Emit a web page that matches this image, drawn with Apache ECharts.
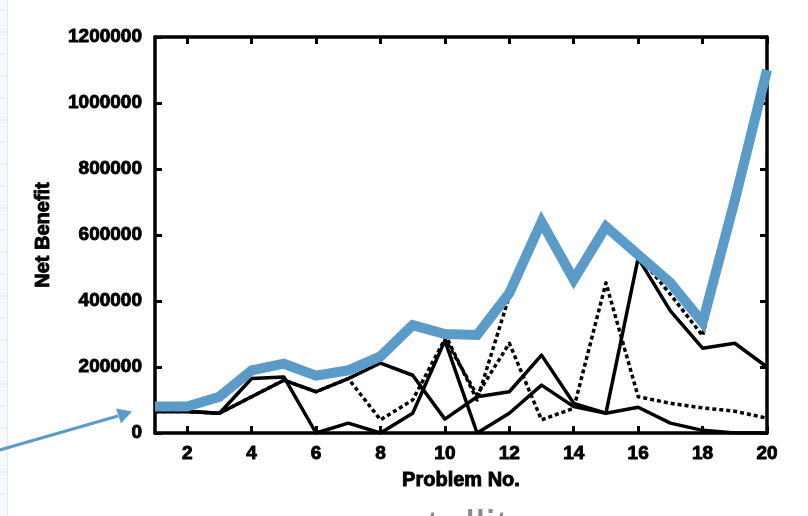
<!DOCTYPE html>
<html>
<head>
<meta charset="utf-8">
<script src="https://cdn.jsdelivr.net/npm/echarts@6/dist/echarts.min.js"></script>
<style>
  html, body { margin: 0; padding: 0; background: #ffffff; }
  #chart { width: 808px; height: 516px; }
</style>
</head>
<body>
<div id="chart"></div>
<script>
// Problem numbers along the x axis
const problems = ['1','2','3','4','5','6','7','8','9','10','11','12','13','14','15','16','17','18','19','20'];

// Net benefit per problem for each method
const methodA = [65000, 65000, 60000, 165000, 170000, 0, 30000, 0, 60000, 280000, 0, 60000, 145000, 80000, 60000, 78000, 30000, 8000, 0, 0];
const methodB = [65000, 65000, 60000, 110000, 160000, 125000, 165000, 212000, 175000, 42000, 110000, 125000, 236000, 90000, 60000, 530000, 370000, 257000, 272000, 200000];
const methodC = [65000, 65000, 60000, 110000, 160000, 125000, 165000, 40000, 100000, 285000, 115000, 272000, 40000, 75000, 455000, 110000, 90000, 76000, 66000, 45000];
const methodD = [75000, 75000, 105000, 190000, 210000, 172000, 190000, 232000, 327000, 300000, 100000, 415000, 640000, 460000, 620000, 540000, 420000, 295000, 700000, 1090000];
// Best net benefit reached on each problem
const best = [80000, 80000, 110000, 190000, 210000, 174000, 190000, 232000, 327000, 300000, 297000, 424000, 640000, 465000, 625000, 540000, 455000, 335000, 705000, 1100000];

// Value axis ticks
const yTicks = [0, 200000, 400000, 600000, 800000, 1000000, 1200000];

const chart = echarts.init(document.getElementById('chart'), null, { renderer: 'canvas' });

const FONT = "'Liberation Sans', Arial, Helvetica, sans-serif";
const BLUE = '#5b9bc8';
const evenOnly = (i) => i % 2 === 1;

const heavyText = { color: '#000', fontFamily: FONT, fontWeight: 'bold', textBorderColor: '#000', textBorderWidth: 0.9 };
const axisLine = { show: true, onZero: false, lineStyle: { color: '#000', width: 3.5 } };
const tick = { show: true, inside: true, length: 7, lineStyle: { color: '#000', width: 3 } };

function blackLine(name, data, dashed) {
  return {
    name, type: 'line', data,
    symbol: 'none', z: 2,
    lineStyle: {
      color: '#000', width: 3.5,
      type: dashed ? [4, 3] : 'solid',
      join: 'round'
    }
  };
}

// Faint slide background strip on the left edge
const stripLines = [];
for (let y = 10; y < 516; y += 22) {
  stripLines.push({ type: 'line', shape: { x1: 0, y1: y, x2: 7, y2: y }, style: { stroke: '#e4eaef', lineWidth: 1 }, silent: true });
}

chart.setOption({
  animation: false,
  backgroundColor: '#ffffff',
  grid: { left: 155, right: 41, top: 37, bottom: 83, containLabel: false },
  xAxis: [
    {
      type: 'category', data: problems, boundaryGap: false, position: 'bottom',
      axisLine, axisTick: Object.assign({ interval: evenOnly }, tick),
      axisLabel: Object.assign({ interval: evenOnly, fontSize: 19, margin: 11 }, heavyText),
      splitLine: { show: false },
      name: 'Problem No.', nameLocation: 'middle', nameGap: 37,
      nameTextStyle: Object.assign({ fontSize: 20 }, heavyText)
    },
    {
      type: 'category', data: problems, boundaryGap: false, position: 'top',
      axisLine, axisTick: Object.assign({ interval: evenOnly }, tick),
      axisLabel: { show: false }, splitLine: { show: false }
    }
  ],
  yAxis: [
    {
      type: 'value', min: yTicks[0], max: yTicks[yTicks.length - 1], interval: yTicks[1] - yTicks[0],
      position: 'left', axisLine, axisTick: tick,
      axisLabel: Object.assign({ fontSize: 19, margin: 13, formatter: (v) => String(v) }, heavyText),
      splitLine: { show: false },
      name: 'Net Benefit', nameLocation: 'middle', nameGap: 102,
      nameTextStyle: Object.assign({ fontSize: 20 }, heavyText)
    },
    {
      type: 'value', min: yTicks[0], max: yTicks[yTicks.length - 1], interval: yTicks[1] - yTicks[0],
      position: 'right', axisLine, axisTick: tick,
      axisLabel: { show: false }, splitLine: { show: false }
    }
  ],
  series: [
    blackLine('A', methodA, false),
    blackLine('B', methodB, false),
    blackLine('C', methodC, true),
    blackLine('D', methodD, true),
    {
      name: 'Best', type: 'line', data: best, symbol: 'none', z: 5,
      lineStyle: { color: BLUE, width: 10, join: 'miter', cap: 'butt' }
    }
  ],
  graphic: [
    { type: 'rect', shape: { x: 0, y: 0, width: 7, height: 516 }, style: { fill: '#f6f8fa' }, silent: true },
    { type: 'line', shape: { x1: 7.5, y1: 0, x2: 7.5, y2: 516 }, style: { stroke: '#e2e7eb', lineWidth: 1 }, silent: true },
    ...stripLines,
    // Pointer arrow towards the first problem
    { type: 'line', shape: { x1: -4, y1: 451, x2: 118, y2: 416 }, style: { stroke: BLUE, lineWidth: 3 }, silent: true },
    { type: 'polygon', shape: { points: [[132, 411.5], [116, 408.5], [121, 423.5]] }, style: { fill: BLUE }, silent: true },
    // Caption text below the chart, mostly beyond the lower edge
    { type: 'text', x: 378, y: 530, style: { text: 'satellite', fill: '#8c8c8c', font: '46px ' + FONT, verticalAlign: 'middle', align: 'left' }, silent: true }
  ]
});
</script>
</body>
</html>
